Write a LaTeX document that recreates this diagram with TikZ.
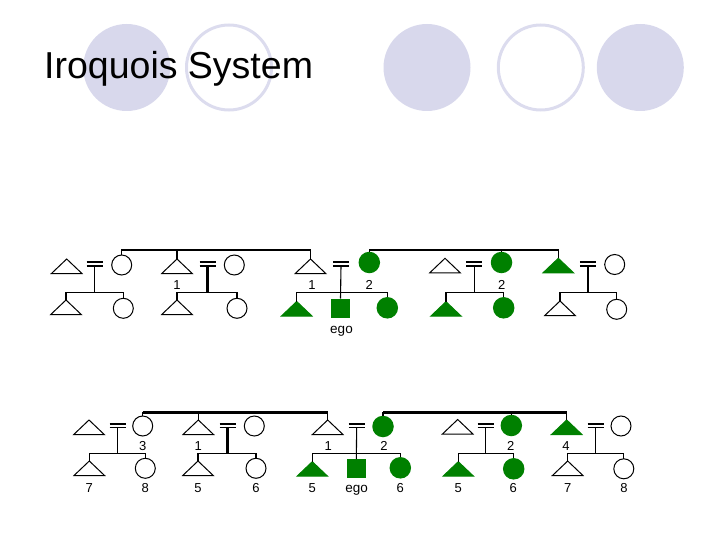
\documentclass[tikz,border=0pt]{standalone}
\usepackage{fontspec}
\setmainfont{Liberation Sans}
\usetikzlibrary{shapes.geometric}
\definecolor{lav}{RGB}{216,216,236}
\definecolor{lavline}{RGB}{220,220,238}
\definecolor{kgreen}{RGB}{0,128,0}
\begin{document}
\begin{tikzpicture}[x=1pt,y=-1pt,
  tri/.style={isosceles triangle, shape border rotate=90, isosceles triangle stretches,
    minimum width=30.5pt, minimum height=14.5pt, inner sep=0pt, outer sep=0pt,
    anchor=apex, draw=black, line width=1pt},
  ftri/.style={tri, fill=kgreen, draw=kgreen},
  circ/.style={circle, draw=black, line width=1pt, minimum size=20pt, inner sep=0pt, outer sep=0pt},
  fcirc/.style={circle, fill=kgreen, minimum size=21.5pt, inner sep=0pt, outer sep=0pt},
  sqbox/.style={rectangle, fill=kgreen, minimum size=19pt, inner sep=0pt, outer sep=0pt},
  eqa/.style={minimum width=16pt, minimum height=4.3pt, inner sep=0pt, outer sep=0pt},
  eqb/.style={minimum width=16pt, minimum height=3.4pt, inner sep=0pt, outer sep=0pt},
  eqline/.style={line width=2pt},
  eqlineb/.style={line width=1.7pt},
  lbl/.style={font=\fontsize{13}{15}\selectfont, inner sep=0pt, anchor=base},
  egol/.style={font=\fontsize{13.5}{15}\selectfont, inner sep=0pt, anchor=base},
  conn/.style={line width=1.1pt},
  tconn/.style={line width=2.4pt},
  bigfill/.style={circle, fill=lav, minimum size=87pt, inner sep=0pt},
  bigring/.style={circle, draw=lavline, line width=3pt, minimum size=85pt, inner sep=0pt}
]
\useasboundingbox (0,0) rectangle (720,540);

% title decoration
\node[bigfill] (d1) at (126.7,67.5) {};
\node[bigring] (d2) at (229,67.5) {};
\node[bigfill] (d3) at (427,67.5) {};
\node[bigring] (d4) at (540.8,67.5) {};
\node[bigfill] (d5) at (640.3,67.5) {};
\node[font=\fontsize{37.5}{41}\selectfont, inner sep=0pt, anchor=base west] (title) at (44,79) {Iroquois System};

% ---------------- top row ----------------
\coordinate (lineA) at (0,250);
\coordinate (sibA) at (0,292.5);
% group 1
\node[tri] (tA1) at (66.7,259) {};
\node[eqa] (eA1) at (94.7,263.8) {};
\node[circ] (cA1) at (121.7,265) {};
\node[tri] (tA1c) at (66,300) {};
\node[circ] (cA1c) at (123.3,308.3) {};
% group 2
\node[tri] (tA2) at (177,259) {};
\node[eqa] (eA2) at (207.5,263.8) {};
\node[circ] (cA2) at (234.3,265) {};
\node[tri] (tA2c) at (177,300) {};
\node[circ] (cA2c) at (237,308.3) {};
\node[lbl] (lA2) at (177,289.5) {1};
% group 3
\node[tri] (tA3) at (310.5,259) {};
\node[eqa] (eA3) at (341,263.8) {};
\node[fcirc] (fcA3) at (369.3,262.5) {};
\node[ftri] (ftA3c) at (296.7,301.5) {};
\node[sqbox] (sqA3) at (340.5,308) {};
\node[fcirc] (fcA3c) at (387.3,307.8) {};
\node[lbl] (lA3a) at (312,289.5) {1};
\node[lbl] (lA3b) at (369.3,289.5) {2};
\node[egol] (egoA) at (341.5,333.5) {ego};
% group 4
\node[tri] (tA4) at (445,258.3) {};
\node[eqa] (eA4) at (474.3,263.8) {};
\node[fcirc] (fcA4) at (501.5,262.5) {};
\node[ftri] (ftA4c) at (446,301.7) {};
\node[fcirc] (fcA4c) at (503.7,307.8) {};
\node[lbl] (lA4) at (501.7,289.5) {2};
% group 5
\node[ftri] (ftA5) at (558.3,258.3) {};
\node[eqa] (eA5) at (587.8,263.8) {};
\node[circ] (cA5) at (614.7,264.5) {};
\node[tri] (tA5c) at (560,301) {};
\node[circ] (cA5c) at (616.7,309.3) {};

\foreach \e in {eA1,eA2,eA3,eA4,eA5}
  \draw[eqline] (\e.north west) -- (\e.north east) (\e.south west) -- (\e.south east);

% sibling lines (top row)
\draw[conn] (cA1.north) -- (cA1.north |- lineA) -| (tA3.apex);
\draw[conn] (tA2.apex) -- (tA2.apex |- lineA);
\draw[conn] (fcA3.north) -- (fcA3.north |- lineA) -| (ftA5.apex);
\draw[conn] (fcA4.north) -- (fcA4.north |- lineA);
% descent lines (top row)
\draw[conn] (eA1.south) -- (eA1.south |- sibA);
\draw[conn] (tA1c.apex) -- (tA1c.apex |- sibA) -| (cA1c.north);
\draw[tconn] (eA2.south) -- (eA2.south |- sibA);
\draw[conn] (tA2c.apex) -- (tA2c.apex |- sibA) -| (cA2c.north);
\draw[conn] (eA3.south) -- (sqA3.north);
\draw[conn] (ftA3c.apex) -- (ftA3c.apex |- sibA) -| (fcA3c.north);
\draw[conn] (eA4.south) -- (eA4.south |- sibA);
\draw[conn] (ftA4c.apex) -- (ftA4c.apex |- sibA) -| (fcA4c.north);
\draw[tconn] (eA5.south) -- (eA5.south |- sibA);
\draw[conn] (tA5c.apex) -- (tA5c.apex |- sibA) -| (cA5c.north);

% ---------------- bottom row ----------------
\coordinate (lineB) at (0,412.3);
\coordinate (sibB) at (0,453.3);
% group 1
\node[tri] (tB1) at (89,420) {};
\node[eqb] (eB1) at (117.7,425.8) {};
\node[circ] (cB1) at (142.7,426) {};
\node[tri] (tB1c) at (89.3,461) {};
\node[circ] (cB1c) at (145.3,468.3) {};
\node[lbl] (lB1) at (142.7,450) {3};
\node[lbl] (lB1a) at (89.3,492.5) {7};
\node[lbl] (lB1b) at (145.3,492.5) {8};
% group 2
\node[tri] (tB2) at (198.3,420) {};
\node[eqb] (eB2) at (227.5,425.8) {};
\node[circ] (cB2) at (254.3,426) {};
\node[tri] (tB2c) at (198,461) {};
\node[circ] (cB2c) at (256,468.3) {};
\node[lbl] (lB2) at (198.3,450) {1};
\node[lbl] (lB2a) at (198,492.5) {5};
\node[lbl] (lB2b) at (256,492.5) {6};
% group 3
\node[tri] (tB3) at (327.7,420) {};
\node[eqb] (eB3) at (356.7,425.8) {};
\node[fcirc] (fcB3) at (383,426.5) {};
\node[ftri] (ftB3c) at (312.3,461.7) {};
\node[sqbox] (sqB3) at (356.3,468.5) {};
\node[fcirc] (fcB3c) at (400.3,467.8) {};
\node[lbl] (lB3a) at (328.3,450) {1};
\node[lbl] (lB3b) at (384,450) {2};
\node[lbl] (lB3c) at (312.3,492.5) {5};
\node[egol] (egoB) at (356.7,492) {ego};
\node[lbl] (lB3d) at (400.3,492.5) {6};
% group 4
\node[tri] (tB4) at (457.7,419.5) {};
\node[eqb] (eB4) at (485.7,425.8) {};
\node[fcirc] (fcB4) at (511.3,425.5) {};
\node[ftri] (ftB4c) at (458.3,461.7) {};
\node[fcirc] (fcB4c) at (513.7,468.8) {};
\node[lbl] (lB4) at (510.7,450) {2};
\node[lbl] (lB4a) at (458.3,492.5) {5};
\node[lbl] (lB4b) at (513.3,492.5) {6};
% group 5
\node[ftri] (ftB5) at (566.7,420) {};
\node[eqb] (eB5) at (595.5,425.8) {};
\node[circ] (cB5) at (621,426) {};
\node[tri] (tB5c) at (567.7,461) {};
\node[circ] (cB5c) at (623.8,468.8) {};
\node[lbl] (lB5) at (566,450) {4};
\node[lbl] (lB5a) at (567.7,492.5) {7};
\node[lbl] (lB5b) at (624,492.5) {8};

\foreach \e in {eB1,eB2,eB3,eB4,eB5}
  \draw[eqlineb] (\e.north west) -- (\e.north east) (\e.south west) -- (\e.south east);

% sibling lines (bottom row)
\draw[conn] (cB1.north) -- (cB1.north |- lineB);
\draw[tconn] (cB1.north |- lineB) -- (tB3.apex |- lineB);
\draw[conn] (tB3.apex |- lineB) -- (tB3.apex);
\draw[conn] (tB2.apex) -- (tB2.apex |- lineB);
\draw[conn] (fcB3.north) -- (fcB3.north |- lineB);
\draw[tconn] (fcB3.north |- lineB) -- (ftB5.apex |- lineB);
\draw[conn] (ftB5.apex |- lineB) -- (ftB5.apex);
\draw[conn] (fcB4.north) -- (fcB4.north |- lineB);
% descent lines (bottom row)
\draw[conn] (eB1.south) -- (eB1.south |- sibB);
\draw[conn] (tB1c.apex) -- (tB1c.apex |- sibB) -| (cB1c.north);
\draw[tconn] (eB2.south) -- (eB2.south |- sibB);
\draw[conn] (tB2c.apex) -- (tB2c.apex |- sibB) -| (cB2c.north);
\draw[conn] (eB3.south) -- (sqB3.north);
\draw[conn] (ftB3c.apex) -- (ftB3c.apex |- sibB) -| (fcB3c.north);
\draw[conn] (eB4.south) -- (eB4.south |- sibB);
\draw[conn] (ftB4c.apex) -- (ftB4c.apex |- sibB) -| (fcB4c.north);
\draw[conn] (eB5.south) -- (eB5.south |- sibB);
\draw[conn] (tB5c.apex) -- (tB5c.apex |- sibB) -| (cB5c.north);
\end{tikzpicture}
\end{document}
